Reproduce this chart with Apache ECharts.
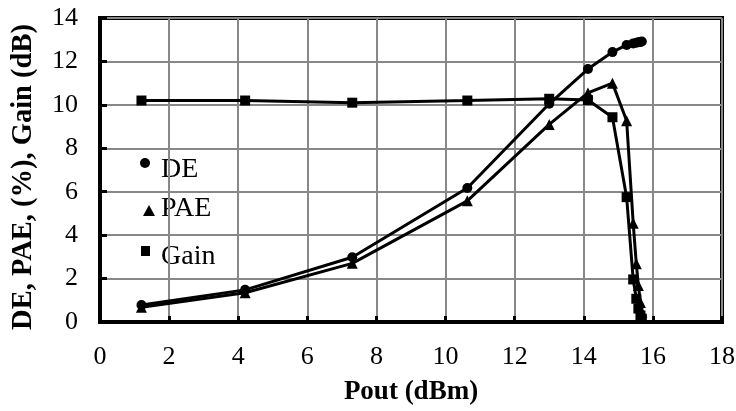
<!DOCTYPE html>
<html>
<head>
<meta charset="utf-8">
<script src="https://cdn.jsdelivr.net/npm/echarts@6/dist/echarts.min.js"></script>
<style>
  html, body { margin: 0; padding: 0; background: #fff; }
  #chart { width: 736px; height: 411px; }
</style>
</head>
<body>
<div id="chart"></div>
<script>
// Output power sweep (dBm) and the measured drain efficiency, power-added efficiency and gain
var pout = [1.2, 4.2, 7.3, 10.63, 13.0, 14.12, 14.83, 15.24, 15.43, 15.52, 15.58, 15.64, 15.68];
var de   = [0.78, 1.48, 2.98, 6.17, 10.05, 11.65, 12.43, 12.76, 12.83, 12.86, 12.88, 12.9, 12.92];
var pae  = [0.68, 1.35, 2.7, 5.58, 9.1, 10.55, 11.0, 9.27, 4.55, 2.68, 1.68, 0.9, 0.45];
var gain = [10.2, 10.2, 10.1, 10.2, 10.28, 10.22, 9.43, 5.75, 1.96, 1.07, 0.62, 0.3, 0.15];

var seriesNames = ['DE', 'PAE', 'Gain'];
var xTitle = 'Pout (dBm)';
var yTitle = 'DE, PAE, (%), Gain (dB)';

var FONT = '"Liberation Serif", "Times New Roman", serif';

function pairs(xs, ys) {
  return xs.map(function (x, i) { return [x, ys[i]]; });
}

var chart = echarts.init(document.getElementById('chart'), null, { renderer: 'canvas' });

function lineSeries(name, values, symbol, size, z) {
  return {
    name: name,
    type: 'line',
    data: pairs(pout, values),
    symbol: symbol,
    symbolSize: size,
    showAllSymbol: true,
    z: z,
    itemStyle: { color: '#000', borderWidth: 0 },
    lineStyle: { color: '#000', width: 3 },
    emphasis: { disabled: true },
    animation: false
  };
}

var option = {
  backgroundColor: '#fff',
  animation: false,
  grid: {
    left: 100, right: 14, top: 18, bottom: 89,
    containLabel: false, outerBoundsMode: 'none',
    show: true, borderColor: '#000', borderWidth: 4, backgroundColor: 'transparent'
  },
  xAxis: {
    type: 'value', min: 0, max: 18, interval: 2,
    name: xTitle, nameLocation: 'middle', nameGap: 57, nameMoveOverlap: false,
    nameTextStyle: { color: '#000', fontFamily: FONT, fontSize: 27, fontWeight: 'bold' },
    axisLine: { show: true, onZero: false, lineStyle: { color: '#000', width: 4 } },
    axisTick: { show: true, inside: true, length: 6, lineStyle: { color: '#000', width: 3 } },
    splitLine: { show: true, lineStyle: { color: '#888', width: 2 } },
    axisLabel: { color: '#000', fontFamily: FONT, fontSize: 26, margin: 22 }
  },
  yAxis: {
    type: 'value', min: 0, max: 14, interval: 2,
    name: yTitle, nameLocation: 'middle', nameGap: 62, nameMoveOverlap: false,
    nameTextStyle: { color: '#000', fontFamily: FONT, fontSize: 28.5, fontWeight: 'bold', padding: [0, 14, 0, 0] },
    axisLine: { show: true, onZero: false, lineStyle: { color: '#000', width: 4 } },
    axisTick: { show: true, inside: true, length: 7, lineStyle: { color: '#000', width: 3 } },
    splitLine: { show: true, lineStyle: { color: '#888', width: 2 } },
    axisLabel: { color: '#000', fontFamily: FONT, fontSize: 26, margin: 12, padding: [0, 10, 0, 0], align: 'right' }
  },
  series: [
    lineSeries('Gain', gain, 'rect', 10, 2),
    lineSeries('PAE', pae, 'triangle', 11, 3),
    lineSeries('DE', de, 'circle', 10, 4)
  ],
  graphic: [
    { type: 'circle', shape: { cx: 145, cy: 163, r: 5 }, style: { fill: '#000' } },
    { type: 'text', left: 161, top: 156, style: { text: seriesNames[0], fill: '#000', font: '28px ' + FONT } },
    { type: 'polygon', shape: { points: [[149, 205], [155, 216], [143, 216]] }, style: { fill: '#000' } },
    { type: 'text', left: 161, top: 195, style: { text: seriesNames[1], fill: '#000', font: '28px ' + FONT } },
    { type: 'rect', shape: { x: 141, y: 246, width: 9, height: 10 }, style: { fill: '#000' } },
    { type: 'text', left: 161, top: 243, style: { text: seriesNames[2], fill: '#000', font: '28px ' + FONT } }
  ]
};

chart.setOption(option);
</script>
</body>
</html>
